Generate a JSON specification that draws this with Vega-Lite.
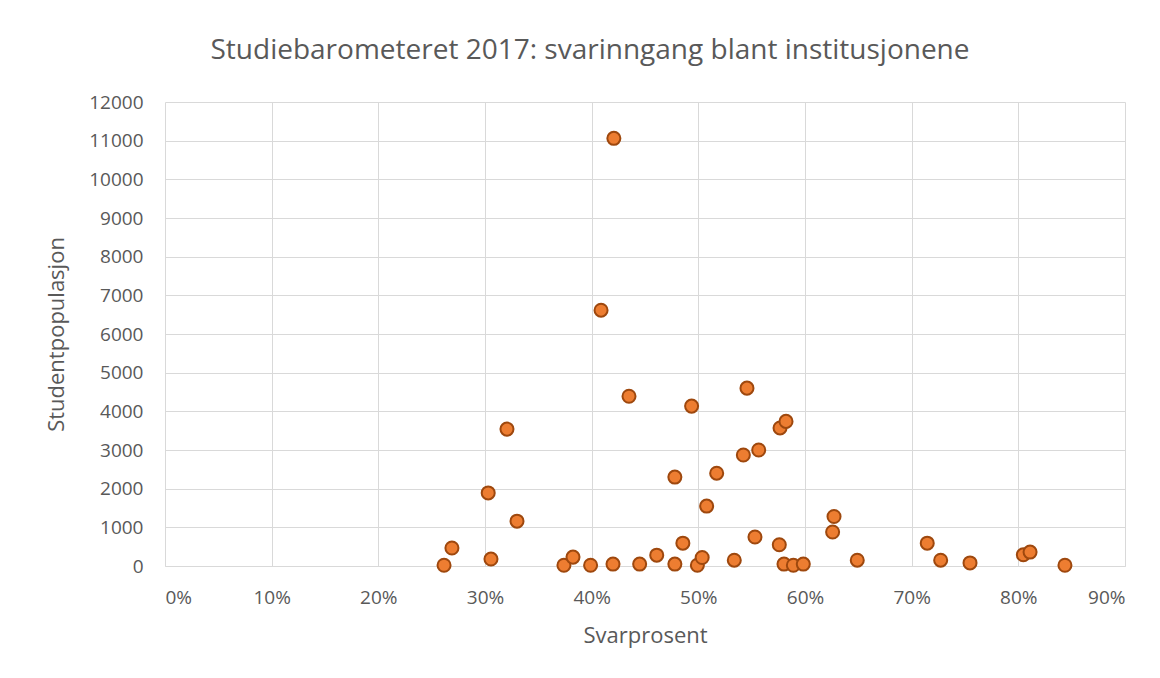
{
  "$schema": "https://vega.github.io/schema/vega-lite/v6.json",
  "autosize": "none",
  "width": 960,
  "height": 464,
  "padding": {"left": 165, "top": 102, "right": 35, "bottom": 112},
  "background": "white",
  "title": {
    "text": "Studiebarometeret 2017: svarinngang blant institusjonene",
    "font": "Open Sans",
    "fontSize": 28,
    "fontWeight": "normal",
    "color": "#595959",
    "anchor": "middle",
    "dx": -55,
    "offset": 28
  },
  "data": {
    "values": [
      {"svar": 0.2616, "pop": 20},
      {"svar": 0.269, "pop": 465},
      {"svar": 0.303, "pop": 1890},
      {"svar": 0.3056, "pop": 180},
      {"svar": 0.3206, "pop": 3540},
      {"svar": 0.33, "pop": 1160},
      {"svar": 0.374, "pop": 20},
      {"svar": 0.3825, "pop": 230},
      {"svar": 0.399, "pop": 20},
      {"svar": 0.42, "pop": 50},
      {"svar": 0.4208, "pop": 11060},
      {"svar": 0.4088, "pop": 6615},
      {"svar": 0.435, "pop": 4390},
      {"svar": 0.445, "pop": 50},
      {"svar": 0.461, "pop": 280},
      {"svar": 0.478, "pop": 50},
      {"svar": 0.478, "pop": 2300},
      {"svar": 0.4855, "pop": 590},
      {"svar": 0.4937, "pop": 4135},
      {"svar": 0.4991, "pop": 20},
      {"svar": 0.5036, "pop": 220},
      {"svar": 0.5078, "pop": 1550},
      {"svar": 0.5172, "pop": 2400},
      {"svar": 0.5337, "pop": 150},
      {"svar": 0.5422, "pop": 2870},
      {"svar": 0.5456, "pop": 4600},
      {"svar": 0.5531, "pop": 750},
      {"svar": 0.5566, "pop": 3000},
      {"svar": 0.5759, "pop": 550},
      {"svar": 0.5766, "pop": 3570},
      {"svar": 0.5822, "pop": 3740},
      {"svar": 0.5803, "pop": 50},
      {"svar": 0.5891, "pop": 20},
      {"svar": 0.5984, "pop": 50},
      {"svar": 0.6259, "pop": 880},
      {"svar": 0.6272, "pop": 1280},
      {"svar": 0.6490, "pop": 150},
      {"svar": 0.7146, "pop": 590},
      {"svar": 0.7272, "pop": 150},
      {"svar": 0.7547, "pop": 80},
      {"svar": 0.8047, "pop": 290},
      {"svar": 0.811, "pop": 360},
      {"svar": 0.8437, "pop": 20}
    ]
  },
  "mark": {
    "type": "point",
    "filled": true,
    "shape": "circle",
    "size": 170,
    "fill": "#ED7D31",
    "stroke": "#9E480E",
    "strokeWidth": 2,
    "opacity": 1
  },
  "encoding": {
    "x": {
      "field": "svar",
      "type": "quantitative",
      "scale": {"domain": [0, 0.9], "nice": false, "zero": true},
      "axis": {
        "title": "Svarprosent",
        "format": ".0%",
        "values": [0, 0.1, 0.2, 0.3, 0.4, 0.5, 0.6, 0.7, 0.8, 0.9],
        "labelPadding": 22,
        "titlePadding": 18
      }
    },
    "y": {
      "field": "pop",
      "type": "quantitative",
      "scale": {"domain": [0, 12000], "nice": false},
      "axis": {
        "title": "Studentpopulasjon",
        "format": "d",
        "values": [0, 1000, 2000, 3000, 4000, 5000, 6000, 7000, 8000, 9000, 10000, 11000, 12000],
        "labelPadding": 22,
        "titlePadding": 20,
        "domain": false
      }
    }
  },
  "config": {
    "view": {"stroke": null},
    "axis": {
      "labelFont": "Open Sans",
      "labelFontSize": 19,
      "labelColor": "#595959",
      "titleFont": "Open Sans",
      "titleFontSize": 22,
      "titleFontWeight": "normal",
      "titleColor": "#595959",
      "ticks": false,
      "grid": true,
      "gridColor": "#d9d9d9",
      "gridWidth": 1,
      "domainColor": "#d9d9d9",
      "domainWidth": 1
    }
  }
}
